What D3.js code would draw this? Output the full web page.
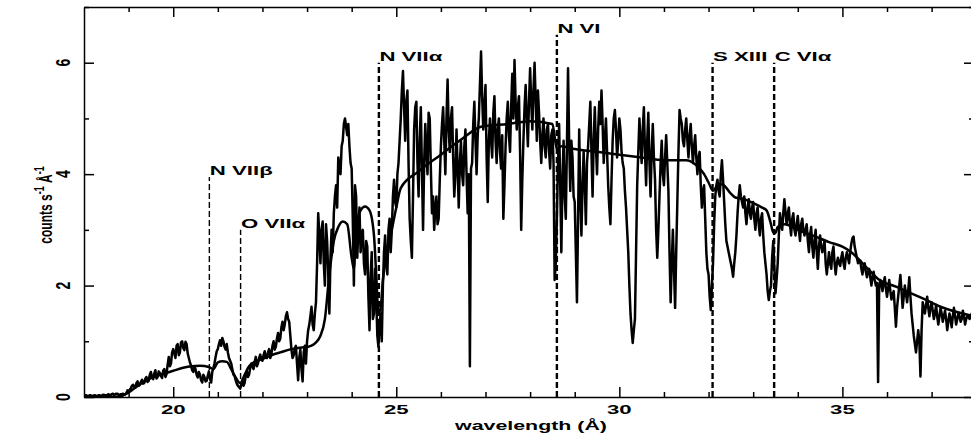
<!DOCTYPE html>
<html>
<head>
<meta charset="utf-8">
<script src="https://cdn.jsdelivr.net/npm/d3@7"></script>
<style>
  body { margin: 0; background: #fff; }
  svg { display: block; }
  .axis path, .axis line { stroke: #000; stroke-width: 1.5; }
  .lbl { font-family: "Liberation Sans", Arial, Helvetica, sans-serif; font-weight: bold; fill: #000; }
</style>
</head>
<body>
<svg id="chart" width="971" height="437"></svg>
<script>
// Observed spectrum: counts s^-1 A^-1 on a regular wavelength grid (A)
const waveStart = 18.0;
const waveStep = 0.05;
// samples at waveStart + i*waveStep
const flux = [
  // 18.00 - 18.95
  0.02,0.03,0.02,0.03,0.02,0.03,0.02,0.03,0.03,0.04,0.03,0.05,0.04,0.06,0.05,0.06,0.04,0.05,0.04,0.07,
  // 19.00 - 19.95
  0.10,0.16,0.22,0.17,0.28,0.22,0.31,0.25,0.36,0.29,0.45,0.32,0.48,0.36,0.43,0.34,0.50,0.41,0.72,0.60,
  // 20.00 - 20.95
  0.86,0.70,0.95,0.80,1.00,0.84,0.95,0.70,0.56,0.45,0.50,0.35,0.40,0.26,0.36,0.29,0.46,0.26,0.52,0.72,
  // 21.00 - 21.95
  0.86,1.02,1.06,0.90,0.95,0.70,0.60,0.40,0.30,0.20,0.15,0.30,0.25,0.46,0.40,0.60,0.50,0.72,0.60,0.76,
  // 22.00 - 22.95
  0.65,0.82,0.70,0.86,0.76,1.00,0.90,1.15,1.05,1.35,1.30,1.52,1.35,0.85,0.75,0.92,0.30,0.85,0.28,0.92,
  // 23.00 - 23.95
  1.00,1.30,1.62,1.20,1.70,3.30,2.40,3.15,2.00,2.80,1.50,3.00,3.30,3.80,4.30,4.00,4.60,5.00,4.70,4.50,
  // 24.00 - 24.95
  4.10,2.00,3.60,3.00,2.60,3.00,2.20,2.70,1.20,2.60,1.50,1.80,0.90,1.50,2.00,2.90,2.20,3.20,3.00,3.90,
  // 25.00 - 25.95
  3.40,4.20,5.00,5.85,4.60,5.50,3.20,2.50,4.80,5.30,3.60,5.20,3.00,4.90,4.00,5.00,3.30,3.00,3.60,3.20,
  // 26.00 - 26.95
  4.50,5.20,4.00,5.70,4.40,5.20,3.60,4.80,3.40,4.60,3.80,4.80,3.30,0.55,4.20,5.30,4.00,5.00,6.20,4.80,
  // 27.00 - 27.95
  5.60,3.50,5.00,4.30,5.40,4.20,5.00,4.10,3.20,4.50,5.30,4.40,5.80,6.05,4.80,5.40,3.00,4.60,5.60,4.50,
  // 28.00 - 28.95
  5.90,4.80,6.00,4.60,5.10,4.20,5.00,4.30,4.90,4.10,4.80,2.10,3.20,4.90,2.60,4.60,3.20,5.90,3.70,4.30,
  // 29.00 - 29.95
  3.50,1.70,4.80,2.90,4.40,3.10,4.50,5.30,3.60,5.20,4.00,5.30,5.50,4.20,5.00,3.80,3.10,4.60,5.15,4.30,
  // 30.00 - 30.95
  5.00,4.40,4.10,3.40,2.60,1.50,0.97,1.40,3.80,5.00,4.20,5.20,3.80,5.10,3.60,4.90,3.90,2.50,3.60,4.60,
  // 31.00 - 31.95
  3.80,4.70,3.70,1.70,3.00,1.60,3.50,5.15,4.90,4.50,5.00,4.30,4.90,4.20,4.70,4.00,4.40,3.40,3.80,2.60,
  // 32.00 - 32.95
  2.20,1.56,2.40,3.60,3.90,3.60,4.25,3.50,2.80,2.60,2.40,2.16,2.60,3.30,3.80,3.50,3.60,3.10,3.55,3.20,
  // 33.00 - 33.95
  3.50,3.00,3.40,2.90,3.30,2.60,2.20,1.74,2.00,2.80,1.86,2.40,3.30,3.00,3.55,3.10,3.40,2.90,3.30,2.90,
  // 34.00 - 34.95
  3.25,2.80,3.20,2.90,3.10,2.60,3.05,2.50,3.00,2.30,2.90,2.60,2.80,2.20,2.60,2.30,2.70,2.20,2.50,2.35,
  // 35.00 - 35.95
  2.60,2.30,2.60,2.40,2.75,2.88,2.60,2.40,2.45,2.20,2.40,2.15,2.30,2.00,2.25,2.00,0.27,2.10,1.90,2.15,
  // 36.00 - 36.95
  1.80,2.10,1.75,1.90,1.26,1.80,2.19,1.60,2.00,1.70,2.15,1.50,1.10,0.80,1.20,0.37,1.70,1.50,1.80,1.45,
  // 37.00 - 37.90
  1.70,1.40,1.65,1.30,1.60,1.35,1.55,1.20,1.50,1.25,1.60,1.30,1.50,1.35,1.55,1.30,1.45,1.40,1.50
];
// samples half a step later, at waveStart + (i + 0.5)*waveStep
const fluxMid = [
  // 18.025 - 18.975
  0.03,0.02,0.03,0.02,0.03,0.02,0.03,0.02,0.04,0.03,0.04,0.03,0.05,0.04,0.06,0.04,0.05,0.06,0.05,0.12,
  // 19.025 - 19.975
  0.13,0.20,0.18,0.25,0.20,0.27,0.24,0.33,0.27,0.40,0.35,0.42,0.33,0.46,0.38,0.47,0.36,0.58,0.55,0.80,
  // 20.025 - 20.975
  0.78,0.92,0.75,0.98,0.88,0.99,0.78,0.62,0.48,0.55,0.40,0.45,0.30,0.40,0.28,0.38,0.33,0.45,0.60,0.82,
  // 21.025 - 21.975
  0.95,0.92,1.00,0.85,0.80,0.65,0.50,0.38,0.24,0.18,0.22,0.20,0.38,0.36,0.52,0.55,0.62,0.55,0.70,0.68,
  // 22.025 - 22.975
  0.75,0.72,0.80,0.70,0.92,0.85,1.05,1.00,1.25,1.20,1.45,1.40,1.10,0.70,0.88,0.60,0.70,0.50,0.80,0.60,
  // 23.025 - 23.975
  1.20,1.45,1.30,1.50,2.40,2.90,3.00,2.40,3.10,2.20,2.50,2.60,3.60,3.40,4.10,4.50,4.90,4.85,4.90,4.20,
  // 24.025 - 24.975
  3.20,3.80,2.50,3.40,2.90,2.40,2.80,1.80,2.20,1.40,2.30,1.10,1.30,1.00,2.60,2.40,3.00,2.60,3.60,3.50,
  // 25.025 - 25.975
  4.00,4.60,5.50,5.20,5.30,4.20,2.80,3.60,5.20,4.20,4.60,4.10,4.20,4.40,5.10,4.10,3.60,3.40,3.10,3.90,
  // 26.025 - 26.975
  4.90,4.60,5.00,4.80,5.00,4.30,4.00,4.10,4.20,4.00,4.50,4.00,4.00,4.10,4.90,4.60,4.70,5.60,5.40,5.20,
  // 27.025 - 27.975
  4.30,4.60,4.60,5.10,4.60,4.80,4.40,4.70,3.80,5.00,4.70,5.20,5.00,5.30,5.20,4.40,3.90,5.20,5.00,5.30,
  // 28.025 - 28.975
  5.30,5.50,5.30,5.50,4.60,4.70,4.50,4.80,4.40,4.70,4.20,2.40,4.20,3.80,3.90,3.60,4.50,4.60,4.60,3.60,
  // 29.025 - 29.975
  2.60,3.20,3.60,3.80,3.80,4.20,4.90,4.40,4.60,4.50,4.80,4.90,4.90,4.60,4.40,3.40,3.90,5.00,4.80,4.60,
  // 30.025 - 30.975
  4.80,4.20,3.70,3.00,2.00,1.20,1.20,2.60,4.40,4.60,4.80,4.40,4.60,4.20,4.40,4.30,3.00,3.00,4.20,4.00,
  // 31.025 - 31.975
  4.30,4.20,2.60,2.40,2.30,2.60,4.40,5.00,4.60,4.80,4.60,4.70,4.50,4.50,4.30,4.30,3.80,3.70,3.20,2.30,
  // 32.025 - 32.975
  1.80,2.00,3.10,3.80,3.70,4.00,3.90,3.10,2.70,2.50,2.30,2.40,2.90,3.60,3.60,3.40,3.30,3.40,3.30,3.40,
  // 33.025 - 33.975
  3.20,3.30,3.10,3.20,2.90,2.40,1.90,1.90,2.50,2.30,2.10,2.90,3.10,3.30,3.30,3.30,3.10,3.20,3.00,3.10,
  // 34.025 - 34.975
  3.00,3.10,3.00,3.00,2.80,2.90,2.70,2.80,2.60,2.70,2.70,2.70,2.40,2.40,2.40,2.60,2.40,2.40,2.40,2.50,
  // 35.025 - 35.975
  2.40,2.50,2.50,2.60,2.85,2.70,2.50,2.45,2.30,2.35,2.25,2.25,2.15,2.15,2.10,2.05,2.00,2.00,2.05,1.95,
  // 36.025 - 36.975
  1.95,1.90,1.85,1.60,1.60,2.00,1.90,1.80,1.85,1.90,1.80,1.30,0.95,1.00,1.00,1.20,1.60,1.65,1.60,1.60,
  // 37.025 - 37.925
  1.55,1.50,1.45,1.45,1.50,1.45,1.40,1.35,1.40,1.45,1.45,1.40,1.45,1.40,1.45,1.40,1.45,1.45,1.50
];

// Fitted continuum model, sampled at irregular wavelengths
const modelWave = [18.0,18.8,19.0,19.2,19.4,19.6,19.8,20.0,20.2,20.4,20.6,20.8,20.9,21.0,21.1,21.2,21.3,21.4,21.5,21.6,21.7,21.8,
  22.0,22.2,22.4,22.6,22.8,23.0,23.1,23.2,23.3,23.4,23.5,23.6,23.7,23.8,23.9,24.0,24.05,24.1,24.2,24.3,24.4,24.5,24.55,24.6,24.65,24.7,24.8,24.9,
  25.0,25.1,25.5,26.0,26.5,26.9,27.5,28.0,28.5,28.6,28.7,29.0,29.5,30.0,30.5,31.0,31.5,31.8,31.9,32.0,32.1,32.2,32.3,32.5,32.6,32.8,33.0,33.2,33.3,33.4,33.45,33.5,33.55,
  33.7,34.0,34.4,34.7,35.0,35.2,35.5,35.8,36.2,36.8,37.2,37.95];
const modelFlux = [0.0,0.01,0.08,0.2,0.3,0.37,0.42,0.47,0.52,0.55,0.56,0.54,0.5,0.62,0.64,0.63,0.5,0.35,0.25,0.4,0.55,0.62,
  0.68,0.75,0.8,0.85,0.88,0.9,0.92,0.98,1.1,1.4,2.2,2.8,3.05,3.15,3.1,2.5,2.3,3.0,3.35,3.42,3.35,2.9,2.2,1.5,1.6,2.1,2.6,3.0,
  3.4,3.75,4.05,4.35,4.65,4.85,4.9,4.95,4.9,4.45,4.5,4.45,4.4,4.35,4.3,4.25,4.25,4.1,4.0,3.85,3.7,3.8,3.82,3.65,3.58,3.55,3.48,3.4,3.35,3.1,2.95,2.95,3.05,
  3.1,3.0,2.88,2.78,2.7,2.6,2.36,2.12,1.98,1.77,1.62,1.45];

// Identified lines: name, wavelength, height of marker
const lineNames = ["N VII\u03b2", "O VII\u03b1", "N VII\u03b1", "N VI", "S XIII", "C VI\u03b1"];
const lineWave  = [20.81, 21.51, 24.61, 28.60, 32.09, 33.47];
const lineTop   = [3.95, 3.0, 6.0, 6.5, 6.0, 6.0];
const lineWidth = [1.4, 1.4, 2.4, 2.4, 2.4, 2.4];

const xMajor = [20, 25, 30, 35];
const xMinor = [19, 21, 22, 23, 24, 26, 27, 28, 29, 31, 32, 33, 34, 36, 37];
const yMajor = [0, 2, 4, 6];
const yMinor = [1, 3, 5, 7];

(function draw() {
  const svg = d3.select("#chart");
  const mLeft = 84, mRight = 974, mTop = 7, mBottom = 397;
  const x = d3.scaleLinear().domain([18, 37.95]).range([mLeft, mRight]);
  const y = d3.scaleLinear().domain([0, 7]).range([mBottom, mTop]);
  const sx = 1.85; // wide lettering

  // Frame with inward ticks on all four sides
  function frameAxis(axisFn, transform, scale, major, minor) {
    const g = svg.append("g").attr("class", "axis").attr("transform", transform);
    g.call(axisFn(scale).tickValues(major).tickSize(-10).tickSizeOuter(0).tickFormat(""));
    const g2 = svg.append("g").attr("class", "axis").attr("transform", transform);
    g2.call(axisFn(scale).tickValues(minor).tickSize(-5).tickSizeOuter(0).tickFormat(""));
    g2.select(".domain").remove();
  }
  frameAxis(d3.axisBottom, `translate(0,${mBottom})`, x, xMajor, xMinor);
  frameAxis(d3.axisTop, `translate(0,${mTop})`, x, xMajor, xMinor);
  frameAxis(d3.axisLeft, `translate(${mLeft},0)`, y, yMajor, yMinor);
  frameAxis(d3.axisRight, `translate(${mRight},0)`, y, yMajor, yMinor);

  // Clip marks to the plotting area
  svg.append("clipPath").attr("id", "plotClip")
    .append("rect").attr("x", mLeft).attr("y", mTop).attr("width", mRight - mLeft).attr("height", mBottom - mTop);

  const plot = svg.append("g").attr("clip-path", "url(#plotClip)");

  // Line markers (dashed)
  plot.selectAll("line.marker").data(lineWave).join("line")
    .attr("class", "marker")
    .attr("x1", d => x(d)).attr("x2", d => x(d))
    .attr("y1", y(0)).attr("y2", (d, i) => y(lineTop[i]))
    .attr("stroke", "#000")
    .attr("stroke-width", (d, i) => lineWidth[i])
    .attr("stroke-dasharray", "6,3");

  // Observed spectrum: merge the two sample sets in wavelength order
  const spectrum = [];
  flux.forEach((v, i) => {
    spectrum.push([waveStart + i * waveStep, v]);
    spectrum.push([waveStart + (i + 0.5) * waveStep, fluxMid[i]]);
  });
  const dataLine = d3.line().x(d => x(d[0])).y(d => y(d[1]));
  plot.append("path").datum(spectrum)
    .attr("d", dataLine)
    .attr("fill", "none").attr("stroke", "#000")
    .attr("stroke-width", 2.5).attr("stroke-linejoin", "round");

  // Model
  const modelLine = d3.line()
    .x(d => x(d[0])).y(d => y(d[1]))
    .curve(d3.curveMonotoneX);
  plot.append("path").datum(modelWave.map((w, i) => [w, modelFlux[i]]))
    .attr("d", modelLine)
    .attr("fill", "none").attr("stroke", "#000")
    .attr("stroke-width", 2.5).attr("stroke-linejoin", "round");

  // Marker labels
  svg.selectAll("text.ion").data(lineNames).join("text")
    .attr("class", "lbl ion")
    .attr("font-size", 12)
    .attr("transform", (d, i) => `translate(${x(lineWave[i]) + 0.5},${y(lineTop[i]) - 2}) scale(${sx},1)`)
    .text(d => d);

  // X tick labels
  svg.selectAll("text.xt").data(xMajor).join("text")
    .attr("class", "lbl xt")
    .attr("font-size", 12)
    .attr("text-anchor", "middle")
    .attr("transform", d => `translate(${x(d)},414) scale(${sx},1)`)
    .text(d => d);

  // Y tick labels (rotated)
  svg.selectAll("text.yt").data(yMajor).join("text")
    .attr("class", "lbl yt")
    .attr("font-size", 14)
    .attr("text-anchor", "middle")
    .attr("transform", d => `translate(70,${y(d)}) scale(1.5,1) rotate(-90)`)
    .text(d => d);

  // X axis title
  svg.append("text").attr("class", "lbl")
    .attr("font-size", 12)
    .attr("text-anchor", "middle")
    .attr("transform", `translate(531,430) scale(1.78,1)`)
    .text("wavelength (\u00c5)");

  // Y axis title with superscripts
  const yt = svg.append("text").attr("class", "lbl")
    .attr("font-size", 12)
    .attr("font-weight", "normal")
    .attr("text-anchor", "middle")
    .attr("transform", `translate(52,205) scale(1.55,1) rotate(-90)`);
  yt.append("tspan").text("counts s");
  yt.append("tspan").attr("font-size", 9).attr("dy", -5).text("-1");
  yt.append("tspan").attr("dy", 5).text(" \u00c5");
  yt.append("tspan").attr("font-size", 9).attr("dy", -5).text("-1");
})();
</script>
</body>
</html>
